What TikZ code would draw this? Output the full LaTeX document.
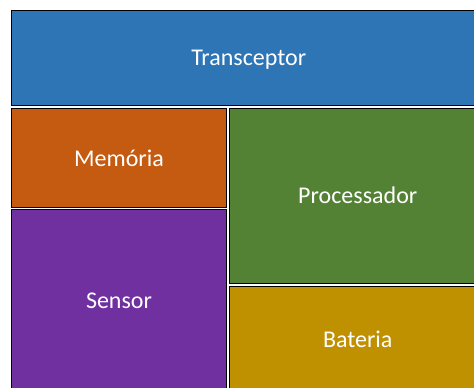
\documentclass[tikz,border=0pt]{standalone}
\usepackage{fontspec}
\setmainfont{Carlito}
\definecolor{cblue}{HTML}{2E75B6}
\definecolor{corange}{HTML}{C55A11}
\definecolor{cpurple}{HTML}{7030A0}
\definecolor{cgreen}{HTML}{548235}
\definecolor{cgold}{HTML}{BF9000}
\tikzset{
  block/.style={draw=black, line width=0.9pt, text=white, font=\fontsize{24}{28}\selectfont},
}
\begin{document}
\begin{tikzpicture}[x=1pt, y=-1pt]
  \useasboundingbox (0,0) rectangle (474,388);
  \fill[white] (0,0) rectangle (474,388);
  \clip (0,0) rectangle (474,388);
  % module blocks
  \draw[block, fill=cblue]   (11.5,10.5)  rectangle (486,105.5) node[midway, yshift=-2pt] (trx) {Transceptor};
  \draw[block, fill=corange] (11.5,108.5) rectangle (226.5,207.5) node[midway] (mem) {Memória};
  \draw[block, fill=cpurple] (11.5,209.5) rectangle (226.5,392) node[midway] (sen) {Sensor};
  \draw[block, fill=cgreen]  (229.5,108.5) rectangle (486,283) node[midway] (cpu) {Processador};
  \draw[block, fill=cgold]   (229.5,286) rectangle (486,392) node[midway] (bat) {Bateria};
\end{tikzpicture}
\end{document}
